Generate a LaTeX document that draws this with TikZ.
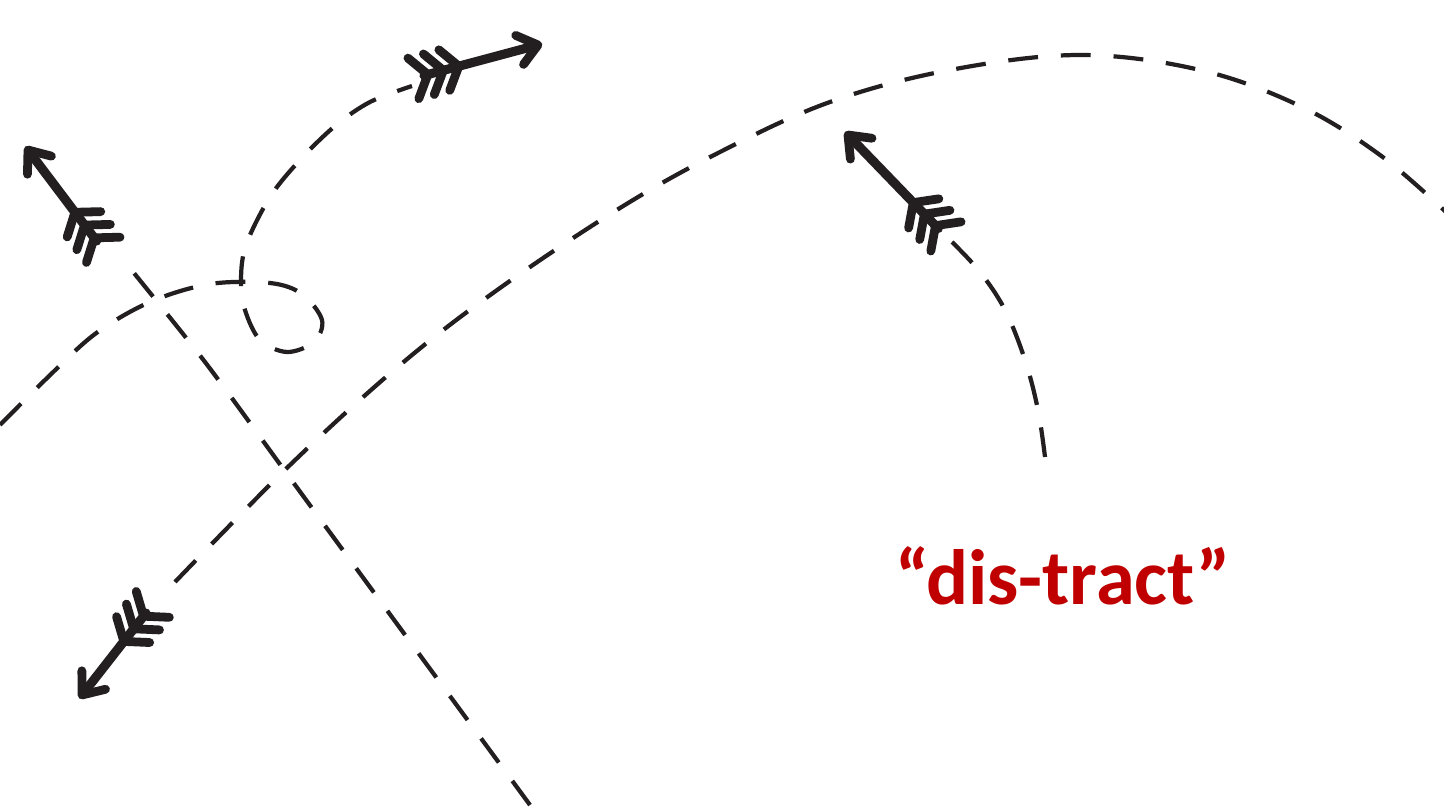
\documentclass[tikz,border=0pt]{standalone}
\usepackage{fontspec}
\setmainfont{Carlito}
\definecolor{ink}{RGB}{35,31,32}
\definecolor{accent}{RGB}{192,0,0}
\tikzset{
  dline/.style={draw=ink, line width=1.2pt, dash pattern=on 8.5pt off 6.5pt},
  shaftline/.style={draw=ink, line width=2.6pt, line cap=round},
  featherline/.style={draw=ink, line width=2.5pt, line cap=round, line join=round},
  pics/fletch/.style={code={
    \draw[shaftline] (-#1,0) -- (-3,0);
    \draw[featherline] (-19,-15) -- (0,0) -- (-19,15);
    \foreach \a in {4,20,36}{
      \draw[featherline] (-#1+\a-15,-21) -- (-#1+\a,0) -- (-#1+\a-15,21);
    }
  }},
  wordstyle/.style={text=accent, font=\fontsize{22.3pt}{24pt}\selectfont\bfseries, inner sep=0pt, anchor=base}
}
\begin{document}
\begin{tikzpicture}[x=0.01cm,y=-0.01cm]
\useasboundingbox[fill=white] (0,0) rectangle (1444,809);
% straight dashed line
\draw[dline] plot[smooth, tension=0.5] coordinates {(530,805) (400,628) (290,478) (205,362) (125,262)};
% loop curve
\draw[dline] plot[smooth, tension=0.55] coordinates {(0,425) (45,380) (95,334) (150,302) (210,284) (270,283) (302,294) (322,320) (314,342) (287,352) (260,340) (245,310) (241,280) (246,245) (270,197) (300,160) (335,126) (370,102) (412,86)};
% big arc
\draw[dline] plot[smooth, tension=0.6] coordinates {(175,582) (290,465) (400,365) (500,288) (620,208) (720,152) (830,102) (950,70) (1080,55) (1200,70) (1300,106) (1380,155) (1446,212)};
% right arc
\draw[dline] plot[smooth, tension=0.6] coordinates {(1045,457) (1038,410) (1025,360) (1005,310) (980,272) (952,242)};
% arrows
\pic[rotate=127] at (28,150) {fletch=114};
\pic[rotate=15] at (538,45) {fletch=118};
\pic[rotate=232] at (82,695) {fletch=104};
\pic[rotate=134] at (848,135) {fletch=130};
% label
\node[wordstyle] (word) at (1063,604) {“dis-tract”};
\end{tikzpicture}
\end{document}
